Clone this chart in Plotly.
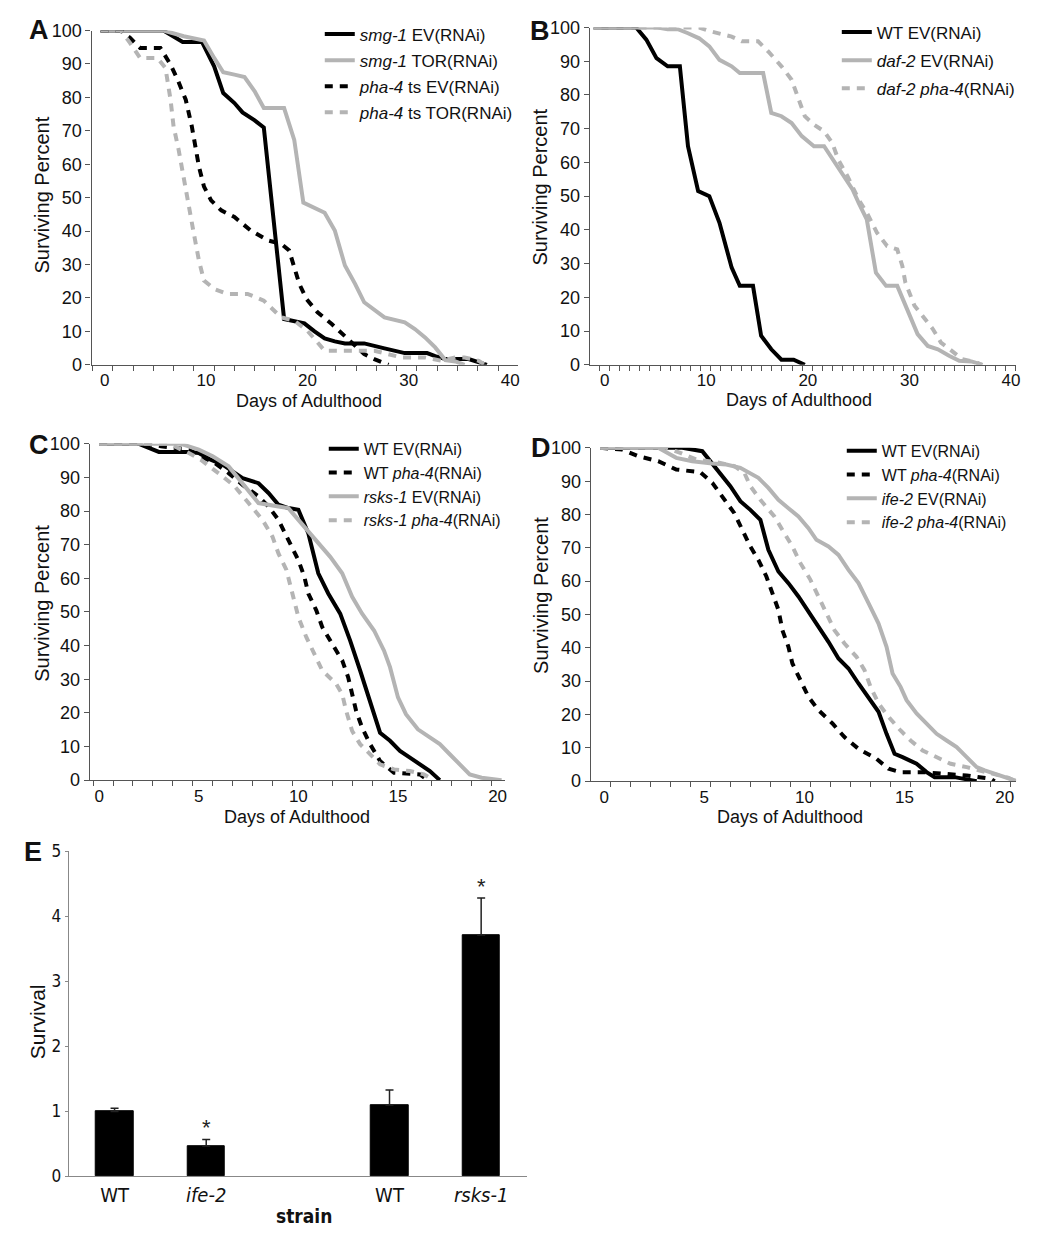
import plotly.graph_objects as go

# ---------------- Panel A ----------------
a_smg_ev_x = [-0.4, 5.8, 7.7, 9.6, 10.8, 11.7, 12.8, 13.6, 14.8, 15.7, 17.7, 18.7, 19.7, 20.7, 21.7, 22.7, 23.7, 25.6, 26.6, 27.6, 29.6, 31.8, 32.6, 33.6, 35.9, 37.7]
a_smg_ev_y = [100, 100, 96.6, 96.6, 89.3, 81.3, 78.3, 75.5, 73.1, 71, 13.7, 13.2, 12.4, 10, 7.9, 7, 6.4, 6.4, 5.5, 4.9, 3.5, 3.5, 2.6, 1.7, 1.7, 0]
a_smg_tor_x = [-0.4, 5.8, 7.8, 9.8, 10.8, 11.7, 12.8, 13.8, 14.8, 15.7, 17.7, 18.7, 19.6, 20.7, 21.7, 22.7, 23.7, 24.7, 25.6, 27.6, 29.6, 30.6, 31.6, 32.6, 33.6, 34.6, 35.5]
a_smg_tor_y = [100, 100, 98.3, 97, 91.8, 87.5, 86.8, 86.1, 81.8, 76.8, 76.8, 67.3, 48.5, 47, 45.5, 40.2, 29.7, 24.2, 18.7, 14.2, 12.7, 10.7, 8.2, 5.2, 1.4, 1, 0]
a_pha_ev_x = [-0.4, 1.6, 2.5, 3.5, 5.5, 6.5, 7.2, 8.0, 8.6, 9.0, 9.3, 9.8, 10.5, 11.5, 12.8, 14.4, 16.1, 17.4, 18.2, 18.7, 19.2, 19.9, 21.0, 22.4, 23.7, 24.7, 25.6, 26.6, 28.0]
a_pha_ev_y = [100, 100, 97.8, 94.8, 94.8, 89.8, 85.3, 79.3, 71.3, 64.3, 59.3, 53.3, 49.2, 46.2, 44.2, 40.2, 37.2, 36.2, 34.2, 29.2, 24.2, 19.7, 15.7, 12.2, 8.7, 5.7, 3.2, 1.7, 0]
a_pha_tor_x = [-0.4, 1.6, 2.5, 3.5, 5.2, 6.0, 6.5, 6.8, 7.3, 7.7, 8.3, 8.8, 9.3, 9.8, 10.8, 12.1, 14.1, 15.7, 17.4, 18.7, 20.0, 21.7, 24.7, 26.6, 29.3, 31.6, 33.2, 34.6, 35.5, 36.9, 37.5]
a_pha_tor_y = [100, 100, 96.3, 91.8, 91.8, 88.8, 79.3, 71.3, 64.3, 57.3, 47.2, 39.2, 31.2, 25.2, 22.7, 21.2, 21.2, 19.2, 14.2, 13.2, 10.2, 4.2, 4.2, 4.2, 2.2, 2.2, 1.2, 2.2, 2.2, 1.2, 0]

# ---------------- Panel B ----------------
b_wt_x = [-1.1, 3.1, 4.1, 5.1, 6.2, 7.4, 8.2, 9.2, 10.3, 11.3, 12.5, 13.3, 14.6, 15.4, 16.4, 17.4, 18.6, 19.7]
b_wt_y = [100, 100, 96.4, 90.9, 88.5, 88.5, 64.8, 51.5, 50, 42.1, 28.8, 23.4, 23.4, 8.6, 4.6, 1.5, 1.5, 0]
b_daf_ev_x = [-1.1, 5.2, 6.2, 7.2, 8.2, 9.3, 10.3, 11.3, 12.5, 13.3, 15.6, 16.4, 17.4, 18.4, 19.4, 20.6, 21.6, 22.5, 23.5, 24.4, 25.0, 25.8, 26.7, 27.7, 28.8, 29.8, 30.8, 31.8, 32.8, 33.9, 34.9, 36.1, 37.2]
b_daf_ev_y = [100, 100, 99.5, 99.5, 98.3, 96.8, 94.4, 90.4, 88.5, 86.5, 86.5, 74.7, 73.7, 71.7, 67.8, 64.8, 64.8, 60.8, 55.9, 52, 48, 43.1, 27.3, 23.4, 23.4, 16.5, 9.1, 5.6, 4.6, 2.7, 1.2, 1, 0]
b_daf_pha_x = [-1.1, 9.3, 10.5, 12.5, 13.5, 15.1, 16.1, 17.4, 18.4, 19.1, 19.7, 20.6, 21.6, 22.4, 23.0, 23.9, 25.0, 25.8, 26.8, 27.8, 28.8, 29.3, 29.6, 30.5, 31.3, 32.3, 33.1, 34.1, 35.2, 36.6, 37.1]
b_daf_pha_y = [100, 100, 98.8, 97.3, 95.9, 95.9, 92.9, 88.5, 84.5, 78.6, 73.7, 71.2, 69.2, 65.8, 60.8, 55.9, 49, 45.1, 39.2, 35.2, 34.2, 29.3, 24.4, 17.5, 14.5, 10.6, 6.6, 4.1, 1.7, 0.7, 0]

# ---------------- Panel C ----------------
c_wt_ev_x = [0, 2.0, 3.0, 4.5, 5.0, 5.6, 6.2, 6.7, 7.2, 8.0, 8.5, 9.0, 9.5, 10.0, 10.5, 11.0, 11.5, 12.1, 12.6, 13.1, 13.6, 14.1, 14.6, 15.1, 15.6, 16.1, 16.6, 17.1]
c_wt_ev_y = [100, 100, 97.6, 97.6, 97.3, 95.3, 93.8, 91.8, 89.8, 88.3, 85.4, 81.9, 80.9, 80.4, 73.4, 61.5, 55.5, 49.5, 41.5, 32.6, 23.6, 14.1, 11.7, 8.7, 6.7, 4.7, 2.7, 0]
c_wt_pha_x = [0, 2.4, 3.1, 4.5, 5.1, 5.8, 6.5, 7.2, 8.0, 8.5, 9.0, 9.5, 10.0, 10.3, 10.5, 10.9, 11.2, 11.7, 12.2, 12.5, 12.7, 12.9, 13.2, 13.6, 14.1, 14.8, 16.1, 16.5]
c_wt_pha_y = [100, 100, 99.3, 98.3, 96.3, 94.3, 91.3, 87.8, 84.4, 81.4, 77.4, 71.4, 65.4, 60.5, 55.5, 50.5, 45.5, 40.5, 35.6, 30.6, 25.6, 20.6, 15.6, 10.7, 5.7, 2.2, 1.7, 0]
c_rsks_ev_x = [0, 4.1, 5.0, 5.7, 6.5, 7.2, 8.0, 9.0, 9.5, 10.0, 10.9, 11.6, 12.2, 12.7, 13.2, 13.8, 14.3, 14.6, 15.0, 15.4, 16.0, 16.6, 17.1, 17.6, 18.1, 18.6, 19.2, 19.7, 20.2]
c_rsks_ev_y = [100, 100, 98.3, 96.3, 93.3, 88.3, 82.4, 81.4, 80.9, 77.4, 71.4, 66.4, 61.5, 54.5, 49.5, 44.5, 38.5, 33.6, 24.6, 19.6, 15.1, 12.6, 10.7, 7.7, 4.7, 1.7, 0.7, 0.5, 0]
c_rsks_pha_x = [0, 3.5, 4.5, 5.1, 6.2, 6.8, 7.5, 8.2, 8.7, 9.0, 9.4, 9.7, 10.0, 10.4, 10.8, 11.2, 11.9, 12.2, 12.4, 12.7, 13.1, 13.6, 14.1, 14.8, 15.6, 16.3, 16.8]
c_rsks_pha_y = [100, 100, 97.3, 95.3, 90.3, 87.4, 82.4, 77.4, 72.4, 67.4, 62.5, 55.5, 48.5, 42.5, 37.5, 32.6, 28.6, 25.6, 20.6, 14.6, 10.7, 7.7, 4.7, 3.2, 2.7, 1.7, 0]

# ---------------- Panel D ----------------
d_wt_ev_x = [-0.2, 3.1, 3.9, 4.9, 5.3, 5.8, 6.3, 6.8, 7.3, 7.8, 8.2, 8.7, 9.2, 9.7, 10.2, 10.7, 11.2, 11.7, 12.2, 12.7, 13.2, 13.7, 14.1, 14.5, 14.9, 15.6, 16.1, 16.5, 17.5, 18.1, 18.6]
d_wt_ev_y = [100, 100, 100, 99, 96, 92.5, 88.5, 84, 81.4, 78.4, 69.4, 62.9, 59.4, 55.4, 50.9, 46.3, 41.8, 36.8, 33.8, 29.3, 25.3, 20.8, 14.2, 8.2, 7.2, 5.2, 2.7, 1.2, 1.2, 0.7, 0]
d_wt_pha_x = [-0.2, 0.9, 1.7, 2.7, 3.6, 4.8, 5.4, 5.9, 6.5, 6.9, 7.3, 7.7, 8.1, 8.4, 8.7, 8.9, 9.2, 9.4, 9.8, 10.2, 10.7, 11.4, 12.0, 12.7, 13.6, 14.2, 14.8, 15.9, 17.0, 18.1, 19.3, 19.5]
d_wt_pha_y = [100, 99.5, 97.5, 96, 93.5, 92.7, 89.5, 85.5, 80.4, 75.4, 70.4, 66.4, 61.4, 56.4, 51.4, 45.3, 40.3, 35.3, 30.3, 25.3, 21.3, 17.3, 13.2, 9.7, 6.7, 3.7, 2.7, 2.7, 2.2, 1.7, 0.7, 0]
d_ife_ev_x = [-0.2, 2.7, 3.6, 4.4, 5.4, 6.1, 6.8, 7.3, 7.7, 8.2, 8.7, 9.2, 9.7, 10.2, 10.6, 11.2, 11.7, 12.2, 12.7, 13.2, 13.7, 14.1, 14.4, 14.8, 15.1, 15.6, 16.1, 16.6, 17.1, 17.6, 18.1, 18.6, 19.0, 19.5, 20.0, 20.6]
d_ife_ev_y = [100, 100, 97, 96, 95.3, 95, 94, 92.5, 91, 88, 84.4, 81.9, 79.4, 75.9, 72.4, 70.4, 67.9, 63.4, 59.4, 53.4, 47.3, 40.3, 32.3, 28.3, 24.3, 20.3, 17.3, 14.2, 12.2, 10.2, 7.2, 4.2, 3.2, 2.2, 1.2, 0]
d_ife_pha_x = [-0.2, 3.1, 3.8, 4.6, 5.8, 6.5, 7.0, 7.3, 7.8, 8.5, 9.0, 9.4, 9.8, 10.3, 10.7, 11.1, 11.5, 12.0, 12.6, 13.0, 13.3, 13.7, 14.2, 14.8, 15.3, 15.9, 16.6, 17.3, 18.1, 18.8, 19.5, 20.2, 20.5]
d_ife_pha_y = [100, 100, 98.5, 96.5, 95.5, 94.5, 92.5, 88.5, 84.4, 79.4, 74.4, 70.4, 65.4, 60.4, 55.4, 50.4, 45.3, 41.3, 37.3, 33.3, 28.3, 23.3, 19.3, 15.2, 12.2, 9.2, 7.2, 5.2, 4.2, 3.2, 2.2, 1, 0]

# ---------------- Panel E ----------------
e_strains = ["WT", "ife-2", "WT", "rsks-1"]
e_italic = [False, True, False, True]
e_group = [0, 0, 1, 1]
e_values = [1.00, 0.47, 1.10, 3.71]
e_errors = [0.05, 0.10, 0.23, 0.57]
e_signif = [False, True, False, True]

BLACK = "#000000"
GRAY = "#b4b4b4"
AXC = "#555555"
FONT = "Liberation Sans, Arial, sans-serif"
NARROW = "Liberation Sans Narrow, Arial Narrow, DejaVu Sans Condensed, Liberation Sans, sans-serif"
W, H = 1050, 1235
VS = 1.0173  # vertical layout stretch about the page centre


def px_x(p):
    return p / W


def px_y(p):
    q = H / 2 + (p - H / 2) * VS
    return 1 - q / H


fig = go.Figure()


def add_line(x, y, name, color, dash, xa, ya, legend):
    fig.add_trace(go.Scatter(
        x=x, y=y, mode="lines", name=name, legendgroup=name + legend,
        line=dict(color=color, width=4, dash="8px,7px" if dash else "solid"),
        xaxis=xa, yaxis=ya, legend=legend, hoverinfo="skip"))


add_line(a_smg_ev_x, a_smg_ev_y, "<i>smg-1</i> EV(RNAi)", BLACK, False, "x", "y", "legend")
add_line(a_smg_tor_x, a_smg_tor_y, "<i>smg-1</i> TOR(RNAi)", GRAY, False, "x", "y", "legend")
add_line(a_pha_ev_x, a_pha_ev_y, "<i>pha-4</i> ts EV(RNAi)", BLACK, True, "x", "y", "legend")
add_line(a_pha_tor_x, a_pha_tor_y, "<i>pha-4</i> ts TOR(RNAi)", GRAY, True, "x", "y", "legend")

add_line(b_wt_x, b_wt_y, "WT EV(RNAi)", BLACK, False, "x2", "y2", "legend2")
add_line(b_daf_ev_x, b_daf_ev_y, "<i>daf-2</i> EV(RNAi)", GRAY, False, "x2", "y2", "legend2")
add_line(b_daf_pha_x, b_daf_pha_y, "<i>daf-2 pha-4</i>(RNAi)", GRAY, True, "x2", "y2", "legend2")

add_line(c_wt_ev_x, c_wt_ev_y, "WT EV(RNAi)", BLACK, False, "x3", "y3", "legend3")
add_line(c_wt_pha_x, c_wt_pha_y, "WT <i>pha-4</i>(RNAi)", BLACK, True, "x3", "y3", "legend3")
add_line(c_rsks_ev_x, c_rsks_ev_y, "<i>rsks-1</i> EV(RNAi)", GRAY, False, "x3", "y3", "legend3")
add_line(c_rsks_pha_x, c_rsks_pha_y, "<i>rsks-1 pha-4</i>(RNAi)", GRAY, True, "x3", "y3", "legend3")

add_line(d_wt_ev_x, d_wt_ev_y, "WT EV(RNAi)", BLACK, False, "x4", "y4", "legend4")
add_line(d_wt_pha_x, d_wt_pha_y, "WT <i>pha-4</i>(RNAi)", BLACK, True, "x4", "y4", "legend4")
add_line(d_ife_ev_x, d_ife_ev_y, "<i>ife-2</i> EV(RNAi)", GRAY, False, "x4", "y4", "legend4")
add_line(d_ife_pha_x, d_ife_pha_y, "<i>ife-2 pha-4</i>(RNAi)", GRAY, True, "x4", "y4", "legend4")

# bar positions: index plus group gap
e_pos = [i + g for i, g in enumerate(e_group)]
e_labels = ["<i>%s</i>" % s if it else s for s, it in zip(e_strains, e_italic)]
fig.add_trace(go.Bar(
    x=e_pos, y=e_values, width=0.41, marker=dict(color=BLACK, line=dict(color=BLACK, width=1)),
    error_y=dict(type="data", array=e_errors, arrayminus=[0] * len(e_errors), symmetric=False,
                 color="#222222", thickness=1.5, width=4),
    xaxis="x5", yaxis="y5", showlegend=False, hoverinfo="skip"))

for p, v, e, s in zip(e_pos, e_values, e_errors, e_signif):
    if s:
        fig.add_annotation(x=p, y=v + e, xref="x5", yref="y5", text="*", showarrow=False,
                           yanchor="middle", yshift=12, font=dict(family=FONT, size=22, color="#222"))


def xaxis_cfg(rng, dom, anchor, major, minor0, minordt):
    return dict(range=rng, domain=dom, anchor=anchor, showline=True, linecolor=AXC, linewidth=1.3,
                ticks="", tickvals=major, tickfont=dict(family=FONT, size=17, color="#111"),
                showgrid=False, zeroline=False,
                minor=dict(ticks="outside", ticklen=5, tickwidth=1, tickcolor=AXC,
                           tick0=minor0, dtick=minordt, showgrid=False))


def yaxis_cfg(dom, anchor):
    return dict(range=[0, 100], domain=dom, anchor=anchor, showline=True, linecolor=AXC, linewidth=1.3,
                ticks="outside", ticklen=5, tickwidth=1, tickcolor=AXC,
                tickvals=list(range(0, 101, 10)), tickfont=dict(family=FONT, size=18, color="#111"),
                showgrid=False, zeroline=False)


fig.update_layout(
    width=W, height=H, margin=dict(l=0, r=0, t=0, b=0),
    paper_bgcolor="white", plot_bgcolor="white", font=dict(family=FONT, color="#111"),
    xaxis=xaxis_cfg([-1.28, 40.77], [px_x(92), px_x(520)], "y", [0, 10, 20, 30, 40], 0.8, 2),
    yaxis=yaxis_cfg([px_y(365), px_y(31)], "x"),
    xaxis2=xaxis_cfg([-1.47, 40.5], [px_x(592), px_x(1020)], "y2", [0, 10, 20, 30, 40], 0.45, 1),
    yaxis2=yaxis_cfg([px_y(365), px_y(28)], "x2"),
    xaxis3=xaxis_cfg([-0.475, 20.375], [px_x(90), px_x(507)], "y3", [0, 5, 10, 15, 20], 0.7, 1),
    yaxis3=yaxis_cfg([px_y(780), px_y(444)], "x3"),
    xaxis4=xaxis_cfg([-0.67, 20.57], [px_x(593), px_x(1020)], "y4", [0, 5, 10, 15, 20], 0.3, 1),
    yaxis4=yaxis_cfg([px_y(781), px_y(448)], "x4"),
    xaxis5=dict(range=[-0.5, 4.5], domain=[px_x(69), px_x(529)], anchor="y5", showline=True,
                linecolor="#888", linewidth=1.3, ticks="", tickvals=e_pos, ticktext=e_labels,
                tickfont=dict(family=NARROW, size=20, color="#111"), showgrid=False, zeroline=False),
    yaxis5=dict(range=[0, 5], domain=[px_y(1176), px_y(851)], anchor="x5", showline=True,
                linecolor="#888", linewidth=1.3, ticks="outside", ticklen=3, tickcolor="#888",
                tickvals=[0, 1, 2, 3, 4, 5], tickfont=dict(family=NARROW, size=17, color="#111"),
                showgrid=False, zeroline=False),
    bargap=0,
)

legend_common = dict(bgcolor="rgba(0,0,0,0)", borderwidth=0, xanchor="left", yanchor="top",
                     traceorder="grouped")
fig.update_layout(
    legend=dict(x=px_x(321), y=px_y(17), font=dict(family=FONT, size=17, color="#111"),
                tracegroupgap=1, **legend_common),
    legend2=dict(x=px_x(840), y=px_y(15), font=dict(family=FONT, size=17, color="#111"),
                 tracegroupgap=3, **legend_common),
    legend3=dict(x=px_x(325), y=px_y(432), font=dict(family=FONT, size=16, color="#111"),
                 tracegroupgap=0, **legend_common),
    legend4=dict(x=px_x(845), y=px_y(434), font=dict(family=FONT, size=16, color="#111"),
                 tracegroupgap=0, **legend_common),
)


# axis titles and panel letters
def title(text, x, y, size=18, angle=0, family=FONT):
    fig.add_annotation(x=px_x(x), y=px_y(y), xref="paper", yref="paper", text=text, showarrow=False,
                       textangle=angle, xanchor="center", yanchor="middle",
                       font=dict(family=family, size=size, color="#111"))


title("Surviving Percent", 42, 195, 20, -90)
title("Surviving Percent", 542, 187, 20, -90)
title("Surviving Percent", 42, 603, 20, -90)
title("Surviving Percent", 543, 595, 20, -90)
title("Days of Adulthood", 310, 401, 18)
title("Days of Adulthood", 802, 400, 18)
title("Days of Adulthood", 298, 817, 18)
title("Days of Adulthood", 793, 817, 18)
title("Survival", 37, 1021, 21, -90)
title("<b>strain</b>", 305, 1216, 19, 0, NARROW)
for letter, lx, ly in [("A", 39, 30), ("B", 542, 31), ("C", 39, 445), ("D", 543, 448), ("E", 33, 852)]:
    title("<b>%s</b>" % letter, lx, ly, 27)

POST = ("var d=document.getElementById('{plot_id}');"
        "document.documentElement.style.overflow='hidden';"
        "document.body.style.margin='0';document.body.style.overflow='hidden';"
        "if(d){d.style.position='fixed';d.style.top='0px';d.style.left='0px';}")
fig.write_html("out.html", config={"displayModeBar": False}, post_script=POST)
